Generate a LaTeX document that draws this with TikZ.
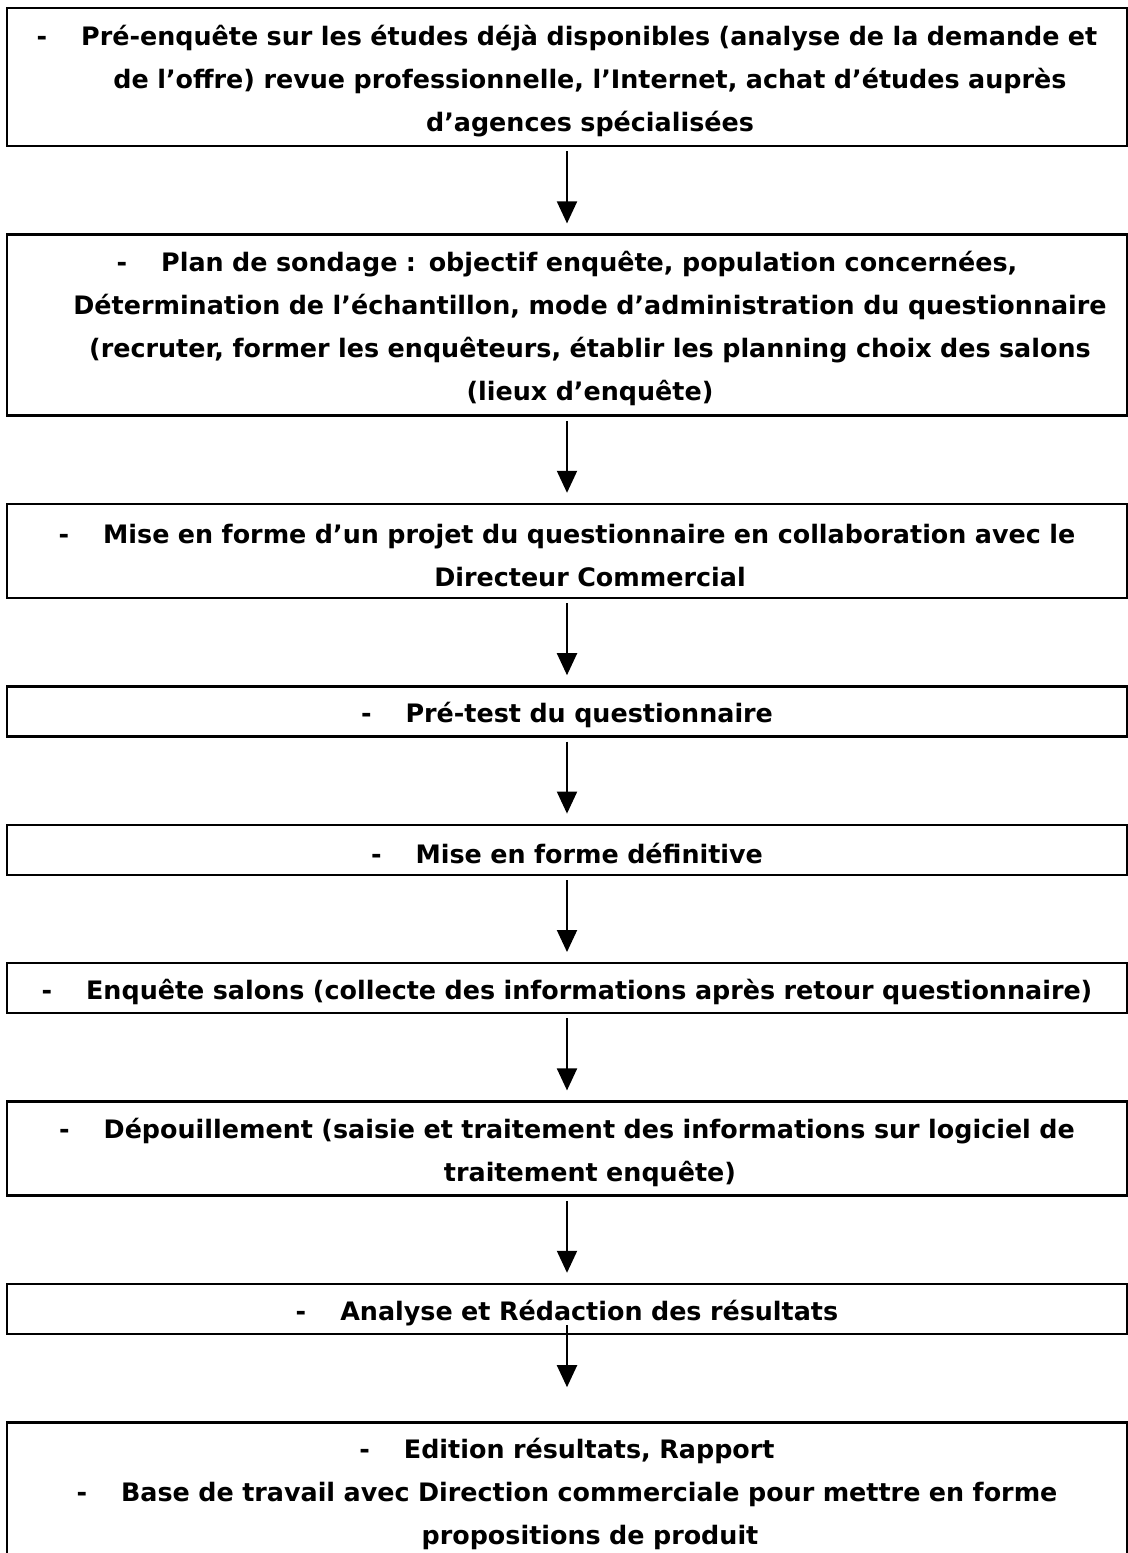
\documentclass[tikz,border=0pt]{standalone}
\usepackage{fontspec}
\setmainfont{DejaVu Sans}
\usepackage{tikz}
\usetikzlibrary{positioning, arrows.meta}

\newcommand{\puce}{-\hspace{17pt}}
\newcommand{\haut}{\rule{0pt}{14pt}}
\newcommand{\suite}{\hspace*{23pt}}

\begin{document}
\begin{tikzpicture}[
    every node/.style={font=\fontsize{12.7pt}{21.5pt}\selectfont\bfseries},
    box/.style={rectangle, draw, line width=1.2pt, minimum width=560pt,
      text width=556pt, align=center, inner sep=0pt},
    arr/.style={-{Triangle[width=10pt, length=11pt]}, line width=1pt}]
  \useasboundingbox (0,0) rectangle (564pt,-776.5pt);
  \node[box, minimum height=69pt, anchor=north] (b1) at (283.5pt,-3.5pt)
    {\haut\puce Pré-enquête sur les études déjà disponibles (analyse de la demande et\\
     \suite de l’offre) revue professionnelle, l’Internet, achat d’études auprès\\
     \suite d’agences spécialisées};
  \node[box, minimum height=90.5pt, below=43pt of b1] (b2)
    {\haut\puce Plan de sondage : objectif enquête, population concernées,\\
     \suite Détermination de l’échantillon, mode d’administration du questionnaire\\
     \suite (recruter, former les enquêteurs, établir les planning choix des salons\\
     \suite (lieux d’enquête)};
  \node[box, minimum height=47pt, below=43pt of b2] (b3)
    {\haut\puce Mise en forme d’un projet du questionnaire en collaboration avec le\\
     \suite Directeur Commercial};
  \node[box, minimum height=25pt, below=43pt of b3] (b4)
    {\haut\puce Pré-test du questionnaire};
  \node[box, minimum height=25pt, below=43pt of b4] (b5)
    {\haut\puce Mise en forme définitive};
  \node[box, minimum height=25pt, below=43pt of b5] (b6)
    {\haut\puce Enquête salons (collecte des informations après retour questionnaire)};
  \node[box, minimum height=47pt, below=43pt of b6] (b7)
    {\haut\puce Dépouillement (saisie et traitement des informations sur logiciel de\\
     \suite traitement enquête)};
  \node[box, minimum height=25pt, below=43pt of b7] (b8)
    {\haut\puce Analyse et Rédaction des résultats};
  \node[box, minimum height=72pt, below=43pt of b8] (b9)
    {\puce Edition résultats, Rapport\\
     \puce Base de travail avec Direction commerciale pour mettre en forme\\
     \suite propositions de produit};
  % fleches
  \draw[arr, shorten <=2pt, shorten >=5pt] (b1) -- (b2);
  \draw[arr, shorten <=2pt, shorten >=5pt] (b2) -- (b3);
  \draw[arr, shorten <=2pt, shorten >=5pt] (b3) -- (b4);
  \draw[arr, shorten <=2pt, shorten >=5pt] (b4) -- (b5);
  \draw[arr, shorten <=2pt, shorten >=5pt] (b5) -- (b6);
  \draw[arr, shorten <=2pt, shorten >=5pt] (b6) -- (b7);
  \draw[arr, shorten <=2pt, shorten >=5pt] (b7) -- (b8);
  \draw[arr] ([yshift=5pt]b8.south) -- ([yshift=17pt]b9.north);
\end{tikzpicture}
\end{document}
